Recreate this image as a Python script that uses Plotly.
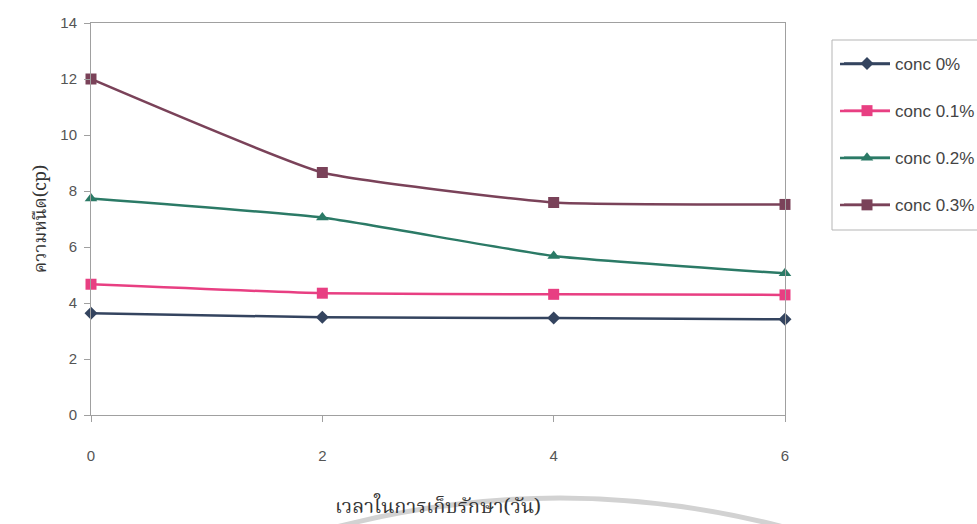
import plotly.graph_objects as go

# Storage time (days)
days = [0, 2, 4, 6]

# Viscosity (cp) per concentration
conc_0 = [3.63, 3.49, 3.46, 3.42]
conc_01 = [4.67, 4.35, 4.31, 4.29]
conc_02 = [7.73, 7.05, 5.68, 5.06]
conc_03 = [12.0, 8.66, 7.59, 7.52]

series_names = ["conc 0%", "conc 0.1%", "conc 0.2%", "conc 0.3%"]
series_values = [conc_0, conc_01, conc_02, conc_03]
series_colors = ["#34445f", "#e83f82", "#2b7a66", "#7a4259"]
series_symbols = ["diamond", "square", "triangle-up", "square"]
series_sizes = [10, 11, 11, 11]

y_ticks = [0, 2, 4, 6, 8, 10, 12, 14]
x_ticks = [0, 2, 4, 6]

W, H = 977, 524
L, R, T, B = 91, 192, 23, 109


def px_x(px):
    return (px - L) / (W - L - R)


def px_y(py):
    return (H - B - py) / (H - T - B)


fig = go.Figure()
for i, (name, vals) in enumerate(zip(series_names, series_values)):
    fig.add_trace(go.Scatter(
        x=days, y=vals, name=name, mode="lines+markers",
        line=dict(color=series_colors[i], width=2.5, shape="spline", smoothing=0.4),
        marker=dict(symbol=series_symbols[i], size=series_sizes[i], color=series_colors[i]),
        cliponaxis=False, legendgroup=name,
    ))

axis_font = dict(family="Liberation Sans, Arial, sans-serif", size=15, color="#555555")
thai_font = "Noto Serif Thai, Norasi, Garuda, Loma, TH Sarabun New, serif"

fig.update_layout(
    width=W, height=H,
    margin=dict(l=L, r=R, t=T, b=B, autoexpand=False),
    paper_bgcolor="white", plot_bgcolor="white",
    showlegend=True,
    legend=dict(
        x=px_x(839), y=px_y(46), xanchor="left", yanchor="top",
        bgcolor="rgba(0,0,0,0)", borderwidth=0,
        font=dict(family="Liberation Sans, Arial, sans-serif", size=17, color="#444444"),
        traceorder="grouped", tracegroupgap=22, itemwidth=46,
    ),
    xaxis=dict(
        range=[0, 6], tickvals=x_ticks, ticktext=[str(v) for v in x_ticks],
        showgrid=False, zeroline=False,
        showline=True, linecolor="#a0a0a0", linewidth=1, mirror=True,
        ticks="outside", ticklen=6, tickcolor="#a0a0a0",
        ticklabelstandoff=21, tickfont=axis_font,
        title=dict(text="เวลาในการเก็บรักษา(วัน)", standoff=35,
                   font=dict(family=thai_font, size=20, color="#333333")),
    ),
    yaxis=dict(
        range=[0, 14], tickvals=y_ticks, ticktext=[str(v) for v in y_ticks],
        showgrid=False, zeroline=False,
        showline=True, linecolor="#a0a0a0", linewidth=1, mirror=True,
        ticks="outside", ticklen=6, tickcolor="#a0a0a0",
        ticklabelstandoff=4, tickfont=axis_font,
        title=dict(text="ความหนืด(cp)", standoff=9,
                   font=dict(family=thai_font, size=18, color="#333333")),
    ),
)

# legend frame and longer sample lines behind the legend symbols
fig.add_shape(
    type="rect", xref="paper", yref="paper",
    x0=px_x(832), x1=px_x(1000), y0=px_y(230), y1=px_y(40),
    line=dict(color="#b5b5b5", width=1), fillcolor="rgba(0,0,0,0)", layer="above",
)
legend_rows = [64, 111, 158, 205]
for color, row in zip(series_colors, legend_rows):
    fig.add_shape(
        type="line", xref="paper", yref="paper",
        x0=px_x(840), x1=px_x(890), y0=px_y(row), y1=px_y(row),
        line=dict(color=color, width=2.5), layer="above",
    )

# faint grey arc near the bottom edge
x0, x1, xc = px_x(325), px_x(795), px_x(560)
yb, yc = px_y(530), px_y(466)
fig.add_shape(
    type="path", xref="paper", yref="paper",
    path=f"M {x0},{yb} Q {xc},{yc} {x1},{yb}",
    line=dict(color="#d2d2d2", width=5), layer="below",
)

fig.write_html("out.html")
